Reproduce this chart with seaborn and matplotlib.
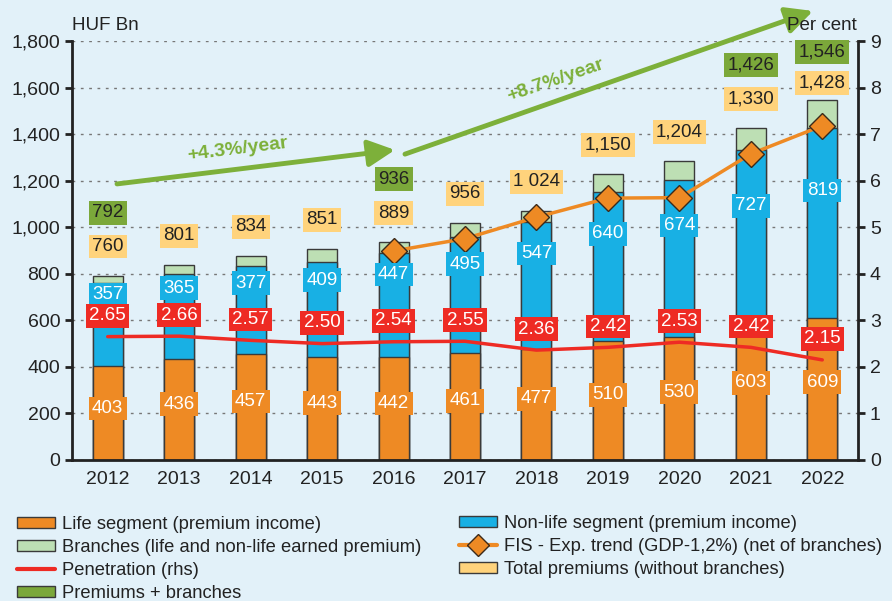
import numpy as np
import pandas as pd
import matplotlib
matplotlib.use("Agg")
import matplotlib.pyplot as plt
import seaborn as sns
from matplotlib.patches import Patch
from matplotlib.lines import Line2D

# data
years = ["2012", "2013", "2014", "2015", "2016", "2017", "2018", "2019", "2020", "2021", "2022"]
life = [403, 436, 457, 443, 442, 461, 477, 510, 530, 603, 609]
nonlife = [357, 365, 377, 409, 447, 495, 547, 640, 674, 727, 819]
branches = [32, 37, 42, 55, 47, 62, 46, 79, 80, 96, 118]
total_text = ["760", "801", "834", "851", "889", "956", "1 024", "1,150", "1,204", "1,330", "1,428"]
penetration = [2.65, 2.66, 2.57, 2.50, 2.54, 2.55, 2.36, 2.42, 2.53, 2.42, 2.15]
fis_years = ["2016", "2017", "2018", "2019", "2020", "2021", "2022"]
fis_trend = [898, 951, 1043, 1125, 1127, 1315, 1436]
green_years = ["2012", "2016", "2021", "2022"]
trend1 = "+4.3%/year"
trend2 = "+8.7%/year"

bg = "#E2F1F9"
c_life = "#EE8A24"
c_nonlife = "#18B0E4"
c_branch = "#BDDFB4"
c_green = "#7BA83A"
c_total = "#FFD37C"
c_red = "#EE2B24"
c_edge = "#3a3a3a"
c_text = "#222222"

sns.set_style("white")
plt.rcParams["font.family"] = ["Liberation Sans", "DejaVu Sans"]

df = pd.DataFrame({"year": years, "life": life, "nonlife": nonlife, "branches": branches})
df["premiums"] = df["life"] + df["nonlife"]
df["top"] = df["premiums"] + df["branches"]

fig = plt.figure(figsize=(8.92, 6.01), dpi=100, facecolor=bg)
ax = fig.add_axes([72 / 892, 141 / 601, 786 / 892, 419 / 601])
ax.set_facecolor(bg)

for col, c in [("top", c_branch), ("premiums", c_nonlife), ("life", c_life)]:
    sns.barplot(data=df, x="year", y=col, color=c, width=0.42, saturation=1,
                edgecolor=c_edge, linewidth=1, ax=ax)

fis_x = [years.index(y) for y in fis_years]
sns.lineplot(x=fis_x, y=fis_trend, color=c_life, lw=2.5, marker="D", markersize=13,
             markeredgecolor="#3b2a1a", markeredgewidth=1, ax=ax, zorder=5)

ax.set_ylim(0, 1800)
ax.set_xlim(-0.5, 10.5)
ax.set_yticks(range(0, 1801, 200))
ax.set_yticklabels([f"{v:,}" for v in range(0, 1801, 200)])
ax.set_xticks(range(len(years)))
ax.set_xticklabels(years)
ax.set_xticks(np.arange(-0.5, 11, 1), minor=True)
ax.tick_params(axis="x", which="major", length=0, pad=8, labelsize=14, colors=c_text)
ax.tick_params(axis="x", which="minor", length=6, width=2, direction="out", color=c_text)
ax.tick_params(axis="y", length=5, width=2, direction="out", labelsize=14, colors=c_text)
ax.set_xlabel("")
ax.set_ylabel("")
ax.yaxis.grid(True, ls=(0, (2, 4)), color="#777777", lw=1)
ax.set_axisbelow(True)
for s in ["top", "right"]:
    ax.spines[s].set_visible(False)
for s in ["left", "bottom"]:
    ax.spines[s].set_linewidth(2)
    ax.spines[s].set_color(c_text)

ax2 = ax.twinx()
sns.lineplot(x=np.arange(len(years)), y=penetration, color=c_red, lw=2.5, ax=ax2)
ax2.set_ylim(0, 9)
ax2.set_yticks(range(10))
ax2.tick_params(axis="y", length=5, width=2, direction="out", labelsize=14, colors=c_text)
ax2.set_ylabel("")
for s in ["top", "left", "bottom"]:
    ax2.spines[s].set_visible(False)
ax2.spines["right"].set_linewidth(2)
ax2.spines["right"].set_color(c_text)


def box_label(x, y, text, fc, tc, trans):
    ax2.text(x, y, text, transform=trans, ha="center", va="center", fontsize=13.5,
             color=tc, zorder=10,
             bbox=dict(boxstyle="square,pad=0.18", fc=fc, ec="none"))


for i, row in df.iterrows():
    box_label(i, row["life"] * 0.55, str(row["life"]), c_life, "white", ax.transData)
    prem = row["premiums"]
    box_label(i, prem - 0.33 * (prem - 700) - 30, str(row["nonlife"]), c_nonlife, "white", ax.transData)
    box_label(i, penetration[i] + 0.45, f"{penetration[i]:.2f}", c_red, "white", ax2.transData)
    box_label(i, min(row["top"] + 125, 1620), total_text[i], c_total, c_text, ax.transData)
    if row["year"] in green_years:
        box_label(i, min(row["top"] + 270, 1752), f"{row['top']:,}", c_green, c_text, ax.transData)

# trend arrows
arrow = dict(arrowstyle="-|>,head_length=0.9,head_width=0.45", lw=3.5, color="#7DB03A",
             mutation_scale=18, shrinkA=0, shrinkB=0)
ax2.annotate("", xy=(4.02, 1332), xytext=(0.13, 1186), xycoords=ax.transData,
             textcoords=ax.transData, arrowprops=arrow, annotation_clip=False)
ax2.annotate("", xy=(9.87, 1929), xytext=(4.16, 1314), xycoords=ax.transData,
             textcoords=ax.transData, arrowprops=arrow, annotation_clip=False)
ax2.text(1.82, 1335, trend1, transform=ax.transData, rotation=7, ha="center", va="center",
         fontsize=14, fontweight="bold", color="#7DB03A")
ax2.text(6.26, 1632, trend2, transform=ax.transData, rotation=19, ha="center", va="center",
         fontsize=14, fontweight="bold", color="#7DB03A")

fig.text(72 / 892, 1 - 25 / 601, "HUF Bn", fontsize=13.5, color=c_text, va="center", ha="left")
fig.text(857 / 892, 1 - 25 / 601, "Per cent", fontsize=13.5, color=c_text, va="center", ha="right")

# legend in two columns
h_life = Patch(fc=c_life, ec=c_edge)
h_branch = Patch(fc=c_branch, ec=c_edge)
h_pen = Line2D([], [], color=c_red, lw=3)
h_green = Patch(fc=c_green, ec=c_edge)
h_non = Patch(fc=c_nonlife, ec=c_edge)
h_fis = Line2D([], [], color=c_life, lw=3, marker="D", markersize=11,
               markeredgecolor="#3b2a1a", markeredgewidth=1)
h_tot = Patch(fc=c_total, ec=c_edge)
leg_kw = dict(loc="upper left", frameon=False, fontsize=13.2, handlelength=2.07,
              handleheight=0.55, handletextpad=0.4, labelspacing=0.33, borderpad=0,
              borderaxespad=0, labelcolor=c_text)
fig.legend([h_life, h_branch, h_pen, h_green],
           ["Life segment (premium income)", "Branches (life and non-life earned premium)",
            "Penetration (rhs)", "Premiums + branches"],
           bbox_to_anchor=(17 / 892, 1 - 516 / 601), **leg_kw)
fig.legend([h_non, h_fis, h_tot],
           ["Non-life segment (premium income)", "FIS - Exp. trend (GDP-1,2%) (net of branches)",
            "Total premiums (without branches)"],
           bbox_to_anchor=(459 / 892, 1 - 515 / 601), **leg_kw)

fig.savefig("out.png", dpi=100, facecolor=bg)
